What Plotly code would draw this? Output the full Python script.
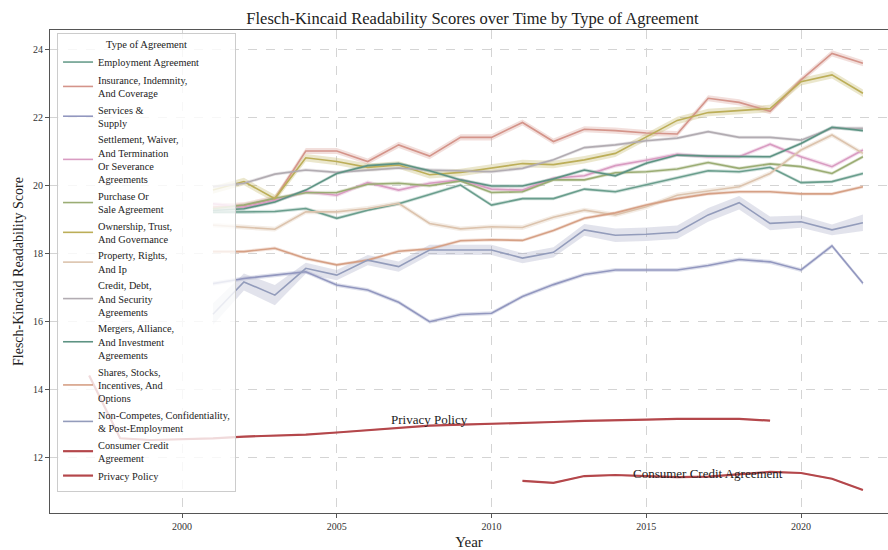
import plotly.graph_objects as go

# ---- data -------------------------------------------------------------
years_main = list(range(2001, 2023))
years_privacy = list(range(1997, 2020))
years_consumer = list(range(2011, 2023))

employment = [19.20, 19.20, 19.22, 19.31, 19.02, 19.26, 19.45, 19.72, 20.00, 19.41, 19.60,
              19.60, 19.88, 19.80, 20.00, 20.20, 20.42, 20.39, 20.52, 20.07, 20.10, 20.34]
insurance = [19.35, 19.40, 19.60, 21.00, 21.00, 20.69, 21.18, 20.85, 21.40, 21.40, 21.84,
             21.28, 21.64, 21.60, 21.53, 21.50, 22.55, 22.43, 22.17, 23.09, 23.87, 23.58]
services = [17.10, 17.25, 17.35, 17.45, 17.06, 16.91, 16.55, 15.98, 16.19, 16.23, 16.72,
            17.07, 17.37, 17.50, 17.50, 17.50, 17.63, 17.81, 17.74, 17.50, 18.21, 17.11]
settlement = [19.45, 19.35, 19.55, 19.80, 19.70, 20.07, 19.85, 20.05, 20.15, 19.88, 19.85,
              20.20, 20.27, 20.57, 20.73, 20.90, 20.83, 20.83, 21.20, 20.83, 20.54, 21.03]
purchase = [19.30, 19.41, 19.61, 19.77, 19.78, 20.02, 20.05, 19.98, 20.12, 19.78, 19.80,
            20.15, 20.15, 20.36, 20.39, 20.47, 20.66, 20.49, 20.62, 20.54, 20.34, 20.83]
ownership = [19.85, 20.10, 19.60, 20.80, 20.69, 20.52, 20.59, 20.30, 20.37, 20.49, 20.63,
             20.60, 20.74, 20.93, 21.42, 21.90, 22.13, 22.20, 22.25, 23.04, 23.24, 22.70]
property_ip = [18.82, 18.77, 18.70, 19.21, 19.21, 19.31, 19.46, 18.87, 18.71, 18.77, 18.75,
               19.05, 19.26, 19.12, 19.36, 19.70, 19.82, 19.95, 20.34, 21.03, 21.47, 20.93]
credit_debt = [19.95, 20.05, 20.32, 20.44, 20.37, 20.44, 20.50, 20.44, 20.42, 20.39, 20.49,
               20.74, 21.10, 21.18, 21.30, 21.38, 21.57, 21.40, 21.40, 21.32, 21.67, 21.67]
mergers = [19.25, 19.30, 19.50, 19.85, 20.34, 20.57, 20.63, 20.42, 20.15, 19.97, 19.97,
           20.18, 20.44, 20.27, 20.64, 20.88, 20.85, 20.83, 20.83, 21.22, 21.70, 21.60]
shares = [18.04, 18.04, 18.14, 17.84, 17.65, 17.79, 18.05, 18.12, 18.36, 18.39, 18.37,
          18.66, 19.02, 19.18, 19.41, 19.60, 19.74, 19.80, 19.80, 19.74, 19.74, 19.95]
noncompete = [16.20, 17.15, 16.76, 17.55, 17.35, 17.79, 17.60, 18.09, 18.09, 18.09, 17.85,
              18.02, 18.68, 18.52, 18.55, 18.61, 19.12, 19.48, 18.87, 18.92, 18.68, 18.89]
noncompete_ci = [0.32, 0.25, 0.30, 0.16, 0.15, 0.15, 0.15, 0.15, 0.15, 0.15, 0.15,
                 0.15, 0.17, 0.20, 0.20, 0.20, 0.20, 0.20, 0.20, 0.18, 0.16, 0.24]
consumer_credit = [11.30, 11.24, 11.44, 11.47, 11.44, 11.41, 11.42, 11.48, 11.56, 11.53, 11.36, 11.03]
privacy_policy = [14.40, 12.55, 12.50, 12.52, 12.55, 12.60, 12.62, 12.66, 12.72, 12.78, 12.86, 12.92,
                  12.95, 12.97, 13.00, 13.03, 13.06, 13.09, 13.10, 13.12, 13.13, 13.12, 13.07]

legend_labels = [
    "Employment Agreement",
    "Insurance, Indemnity,<br>And Coverage",
    "Services &<br>Supply",
    "Settlement, Waiver,<br>And Termination<br>Or Severance<br>Agreements",
    "Purchase Or<br>Sale Agreement",
    "Ownership, Trust,<br>And Governance",
    "Property, Rights,<br>And Ip",
    "Credit, Debt,<br>And Security<br>Agreements",
    "Mergers, Alliance,<br>And Investment<br>Agreements",
    "Shares, Stocks,<br>Incentives, And<br>Options",
    "Non-Competes, Confidentiality,<br>& Post-Employment",
    "Consumer Credit<br>Agreement",
    "Privacy Policy",
]

# ---- styling ----------------------------------------------------------
colors = ["#6a9e8d", "#d4948a", "#9297bf", "#d99cc2", "#9bad74", "#bcae58",
          "#dcc3ad", "#b2acb2", "#5d9383", "#d6a085", "#939cbb", "#b4474b", "#b4474b"]
band_half = [0.05, 0.09, 0.06, 0.06, 0.05, 0.11, 0.07, 0.05, 0.05, 0.05, None, 0.02, 0.02]

series_x = [years_main] * 11 + [years_consumer, years_privacy]
series_y = [employment, insurance, services, settlement, purchase, ownership, property_ip,
            credit_debt, mergers, shares, noncompete, consumer_credit, privacy_policy]

FONT = "Liberation Serif"


def rgba(hex_color, a):
    h = hex_color.lstrip("#")
    r, g, b = int(h[0:2], 16), int(h[2:4], 16), int(h[4:6], 16)
    return f"rgba({r},{g},{b},{a})"


fig = go.Figure()

# confidence bands
for i, (xs, ys) in enumerate(zip(series_x, series_y)):
    half = noncompete_ci if band_half[i] is None else [band_half[i]] * len(ys)
    upper = [v + h for v, h in zip(ys, half)]
    lower = [v - h for v, h in zip(ys, half)]
    band_color = "rgba(150,155,185,0.28)" if band_half[i] is None else rgba(colors[i], 0.3)
    fig.add_trace(go.Scatter(x=xs + xs[::-1], y=upper + lower[::-1], fill="toself",
                             fillcolor=band_color, line=dict(width=0),
                             hoverinfo="skip", showlegend=False, mode="lines"))

# mean lines
for i, (xs, ys) in enumerate(zip(series_x, series_y)):
    width = 2.2 if i >= 11 else 1.6
    fig.add_trace(go.Scatter(x=xs, y=ys, mode="lines", name=legend_labels[i],
                             line=dict(color=colors[i], width=width)))

# inline labels for the two standalone document types
fig.add_annotation(x=2008, y=privacy_policy[years_privacy.index(2008)], yshift=6,
                   text="Privacy Policy", showarrow=False,
                   font=dict(family=FONT, size=13, color="#222"))
fig.add_annotation(x=2017, y=consumer_credit[years_consumer.index(2017)], yshift=3,
                   text="Consumer Credit Agreement", showarrow=False,
                   font=dict(family=FONT, size=13, color="#222"))

fig.update_layout(
    width=888, height=550,
    margin=dict(l=50, r=0, t=30, b=37),
    paper_bgcolor="white", plot_bgcolor="white",
    font=dict(family=FONT, color="#222"),
    title=dict(text="Flesch-Kincaid Readability Scores over Time by Type of Agreement",
               x=0.532, xanchor="center", y=1 - 18 / 550, yanchor="middle",
               font=dict(family=FONT, size=16.5, color="#222")),
    legend=dict(x=0.0084, y=0.994, xanchor="left", yanchor="top",
                bgcolor="rgba(255,255,255,0.8)", bordercolor="#cccccc", borderwidth=1,
                font=dict(family=FONT, size=10.3, color="#222"),
                title=dict(text="Type of Agreement", side="top center",
                           font=dict(family=FONT, size=10.5)),
                itemwidth=30, tracegroupgap=0, maxheight=540),
    showlegend=True,
)

fig.update_xaxes(range=[1995.735, 2022.81], tickvals=[2000, 2005, 2010, 2015, 2020],
                 showgrid=True, gridcolor="#d4d4d4", griddash="dash", gridwidth=1,
                 showline=True, linecolor="#555", linewidth=1.2, mirror=True,
                 ticks="outside", ticklen=4, tickcolor="#555",
                 tickfont=dict(family=FONT, size=10, color="#333"),
                 title=dict(text="Year", font=dict(family=FONT, size=15), standoff=6),
                 zeroline=False)
fig.update_yaxes(range=[10.353, 24.559], tickvals=[12, 14, 16, 18, 20, 22, 24],
                 showgrid=True, gridcolor="#d4d4d4", griddash="dash", gridwidth=1,
                 showline=True, linecolor="#555", linewidth=1.2,
                 ticks="outside", ticklen=4, tickcolor="#555",
                 tickfont=dict(family=FONT, size=10, color="#333"),
                 title=dict(text="Flesch-Kincaid Readability Score",
                            font=dict(family=FONT, size=14), standoff=6),
                 zeroline=False)

fig.write_html("out.html")
